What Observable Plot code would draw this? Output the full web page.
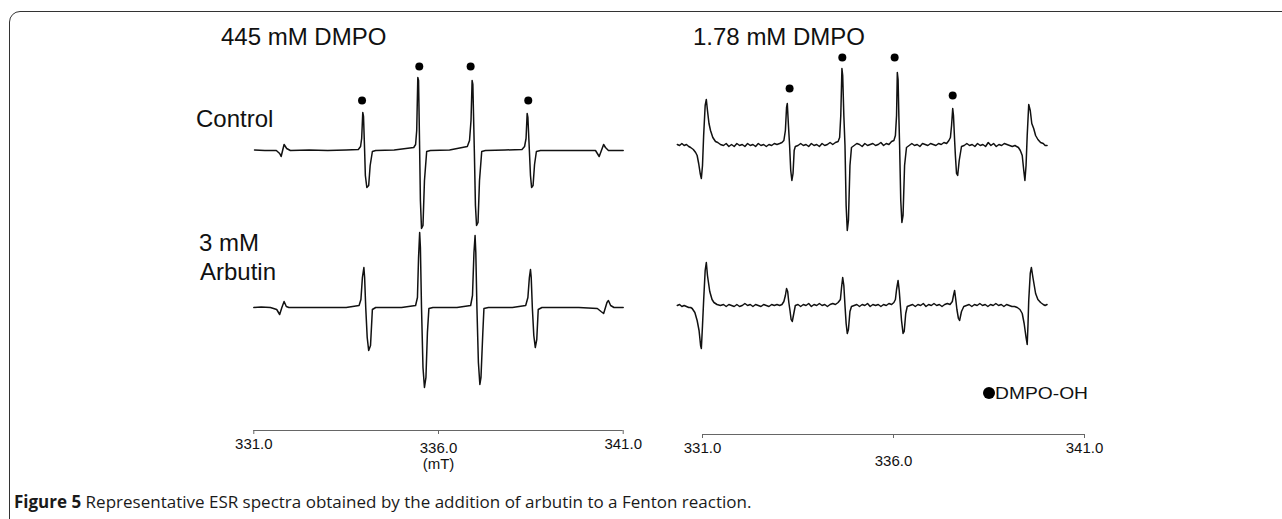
<!DOCTYPE html>
<html><head><meta charset="utf-8">
<script src="https://cdn.jsdelivr.net/npm/d3@7"></script>
<script src="https://cdn.jsdelivr.net/npm/@observablehq/plot@0.6"></script>
<style>
html,body{margin:0;padding:0;background:#fff;}
#fig{position:relative;width:1282px;height:519px;overflow:hidden;font-family:"Liberation Sans",Arial,sans-serif;background:#fff;}
#frame{position:absolute;left:8.5px;top:10.5px;width:1330px;height:620px;border:1.6px solid #333;border-radius:11px;box-sizing:border-box;}
.lbl{position:absolute;font-size:24px;line-height:24px;color:#111;white-space:nowrap;}
.panel{position:absolute;top:0;}
#legend{position:absolute;left:983px;top:385px;height:17px;}
#legend .dot{position:absolute;left:0;top:2px;width:12px;height:12px;border-radius:50%;background:#000;}
#legend .t{position:absolute;left:12px;top:0;font-size:16.5px;line-height:16.5px;white-space:nowrap;transform-origin:0 0;color:#111;}
#caption{position:absolute;left:14px;top:494px;font-family:"Open Sans","Noto Sans",sans-serif;font-size:15px;line-height:16px;white-space:nowrap;color:#1a1a1a;}
</style></head>
<body>
<div id="fig">
  <div id="frame"></div>
  <div id="leftPanel" class="panel" style="left:200px"></div>
  <div id="rightPanel" class="panel" style="left:660px"></div>
  <div class="lbl" style="left:221px;top:24.7px">445 mM DMPO</div>
  <div class="lbl" style="left:693px;top:24.7px">1.78 mM DMPO</div>
  <div class="lbl" style="left:196px;top:106.7px">Control</div>
  <div class="lbl" style="left:199px;top:231.4px">3 mM</div>
  <div class="lbl" style="left:200px;top:260.4px">Arbutin</div>
  <div id="legend"><div class="dot"></div><div class="t" id="legText">DMPO-OH</div></div>
  <div id="caption"><b>Figure 5</b> Representative ESR spectra obtained by the addition of arbutin to a Fenton reaction.</div>
</div>
<script>
// ---------- DATA (magnetic field in mT, signal intensity in arbitrary units) ----------
const fieldTicks = [331, 336, 341];
const fieldUnit = "(mT)";
const panelTitles = ["445 mM DMPO", "1.78 mM DMPO"];
const legendLabel = "DMPO-OH";

// 445 mM DMPO, control
const leftControl = [
[331.02,0.5],[331.30,0],[331.61,0],[331.70,-3],[331.74,-6],[331.78,0],[331.82,6],[331.89,2],[331.99,0],[332.5,0.5],[333.0,0],[333.5,0.5],
[333.83,1],[333.89,4],[333.92,12],[333.95,38],[333.97,34],[334.00,0],[334.02,-25],[334.06,-37],[334.11,-35],[334.15,-15],[334.21,-1],[334.30,0],
[334.8,0.5],[335.33,3],[335.38,6],[335.41,20],[335.44,73],[335.46,70],[335.49,0],[335.51,-50],[335.54,-78],[335.58,-75],[335.62,-30],[335.68,-1],[335.78,0],
[336.3,0.5],[336.78,4],[336.84,10],[336.88,30],[336.91,70],[336.93,66],[336.97,0],[337.00,-55],[337.03,-75],[337.07,-72],[337.11,-30],[337.17,-1],[337.27,0],
[337.8,0.5],[338.26,1],[338.33,4],[338.37,12],[338.40,37],[338.42,33],[338.46,0],[338.49,-25],[338.52,-37],[338.56,-35],[338.60,-14],[338.65,-1],[338.76,0],
[339.5,0],[340.25,0],[340.30,-3],[340.35,-6],[340.41,0],[340.47,6],[340.52,3],[340.60,0],[341.00,0]
];
// 445 mM DMPO, 3 mM arbutin
const leftArbutin = [
[331.00,0],[331.2,0.5],[331.45,0],[331.62,-2],[331.70,-7],[331.76,0],[331.82,6],[331.88,1],[331.95,0],[332.5,0],[333.5,0],
[333.85,2],[333.90,8],[333.94,30],[333.98,40],[334.00,30],[334.03,0],[334.07,-30],[334.11,-43],[334.16,-38],[334.21,-2],[334.30,0],
[335.0,0],[335.38,2],[335.43,10],[335.46,50],[335.49,75],[335.51,60],[335.54,0],[335.58,-60],[335.62,-80],[335.66,-70],[335.70,-25],[335.74,-1],[335.85,0],
[336.5,0],[336.87,2],[336.92,12],[336.96,55],[336.99,72],[337.01,55],[337.04,0],[337.08,-55],[337.12,-77],[337.15,-70],[337.20,-25],[337.23,-1],[337.35,0],
[338.0,0],[338.36,2],[338.42,10],[338.46,30],[338.49,38],[338.51,30],[338.54,0],[338.58,-28],[338.62,-40],[338.66,-32],[338.70,-2],[338.80,0],
[339.8,0],[340.30,-1],[340.40,-4],[340.47,-6],[340.52,0],[340.56,5],[340.60,7],[340.66,2],[340.75,0],[341.00,0]
];
// 1.78 mM DMPO, control
const rightControl = [
[330.34,1],[330.40,0],[330.46,2],[330.52,0],[330.58,1],[330.64,-1],[330.69,-2],[330.76,-4],[330.82,-7],[330.86,-10],[330.90,-18],[330.94,-28],[330.97,-33],[331.00,-20],
[331.03,10],[331.07,40],[331.10,46],[331.13,35],[331.17,22],[331.21,15],[331.27,8],[331.34,4],[331.40,3],[331.47,1],
[331.55,0],[331.62,2],[331.69,-1],[331.76,1],[331.83,-1],[331.90,2],[331.97,0],[332.04,1],[332.11,-1],[332.18,2],[332.25,0],[332.32,1],[332.39,-1],[332.46,2],
[332.53,0],[332.60,1],[332.67,-1],[332.74,1],[332.81,0],[332.88,2],[332.95,1],[333.02,2],[333.08,3],
[333.13,5],[333.17,15],[333.20,38],[333.22,42],[333.25,20],[333.28,0],[333.31,-25],[333.34,-35],[333.37,-28],[333.40,-5],[333.43,-1],
[333.50,0],[333.57,2],[333.64,0],[333.71,1],[333.78,-1],[333.85,2],[333.92,0],[333.99,1],[334.06,-1],[334.13,2],[334.20,0],[334.27,1],[334.34,3],[334.41,1],[334.48,3],
[334.55,4],[334.59,8],[334.62,30],[334.65,77],[334.67,70],[334.70,30],[334.73,0],[334.76,-60],[334.79,-85],[334.82,-75],[334.86,-20],[334.90,-2],
[334.97,0],[335.04,2],[335.11,1],[335.18,-1],[335.25,2],[335.32,0],[335.39,1],[335.46,2],[335.53,0],[335.60,1],[335.67,3],[335.74,0],[335.81,2],[335.88,1],[335.95,4],
[336.01,5],[336.05,10],[336.08,30],[336.10,73],[336.12,66],[336.14,30],[336.16,0],[336.19,-55],[336.22,-77],[336.25,-70],[336.29,-20],[336.34,-2],
[336.41,0],[336.48,2],[336.55,0],[336.62,1],[336.69,-1],[336.76,2],[336.83,1],[336.90,0],[336.97,2],[337.04,1],[337.11,0],[337.18,2],[337.25,1],[337.32,3],[337.39,2],
[337.45,5],[337.49,8],[337.52,20],[337.55,37],[337.57,30],[337.60,5],[337.62,-10],[337.65,-28],[337.68,-30],[337.72,-15],[337.78,-1],
[337.85,0],[337.92,2],[337.99,0],[338.06,1],[338.13,-1],[338.20,2],[338.27,0],[338.34,1],[338.41,-1],[338.48,3],[338.55,0],[338.62,2],[338.69,-1],[338.76,1],
[338.83,0],[338.90,2],[338.97,1],[339.04,0],[339.11,-1],[339.18,0],
[339.27,-2],[339.32,-5],[339.37,-10],[339.41,-25],[339.44,-35],[339.47,-20],[339.50,10],[339.54,41],[339.58,35],[339.62,22],[339.67,17],[339.72,10],[339.78,6],[339.85,3],[339.92,2],[339.97,0],[340.02,0]
];
// 1.78 mM DMPO, 3 mM arbutin
const rightArbutin = [
[330.34,0],[330.40,1],[330.46,-1],[330.52,0],[330.58,-1],[330.64,-2],[330.69,-2],[330.73,-3],[330.80,-7],[330.86,-15],[330.91,-25],[330.95,-40],[330.97,-43],[331.00,-20],
[331.03,5],[331.07,35],[331.10,43],[331.13,30],[331.19,14],[331.25,6],[331.30,3],[331.38,1],[331.47,0],
[331.55,1],[331.62,-1],[331.69,1],[331.76,0],[331.83,-1],[331.90,1],[331.97,-1],[332.04,0],[332.11,2],[332.18,0],[332.25,1],[332.32,-1],[332.39,1],[332.46,0],
[332.53,-1],[332.60,1],[332.67,0],[332.74,-1],[332.81,1],[332.88,0],[332.95,1],[333.02,0],[333.08,1],
[333.13,4],[333.17,10],[333.20,17],[333.23,14],[333.26,3],[333.29,-5],[333.32,-14],[333.35,-16],[333.39,-8],[333.43,0],
[333.50,1],[333.57,-1],[333.64,1],[333.71,0],[333.78,2],[333.85,-1],[333.92,1],[333.99,0],[334.06,2],[334.13,0],[334.20,1],[334.27,-1],[334.34,1],[334.41,2],[334.48,1],
[334.55,3],[334.61,6],[334.64,18],[334.67,28],[334.70,20],[334.73,0],[334.76,-18],[334.79,-28],[334.82,-24],[334.86,-6],[334.90,-1],
[334.97,0],[335.04,1],[335.11,-1],[335.18,1],[335.25,0],[335.32,2],[335.39,-1],[335.46,1],[335.53,0],[335.60,1],[335.67,-1],[335.74,1],[335.81,0],[335.88,2],[335.95,1],
[336.01,3],[336.05,6],[336.08,16],[336.12,25],[336.15,15],[336.18,0],[336.21,-15],[336.25,-28],[336.28,-26],[336.32,-8],[336.36,-1],
[336.43,0],[336.50,1],[336.57,-1],[336.64,1],[336.71,0],[336.78,2],[336.85,-1],[336.92,1],[336.99,0],[337.06,2],[337.13,0],[337.20,1],[337.27,-1],[337.34,1],[337.41,2],
[337.48,1],[337.54,4],[337.57,10],[337.60,15],[337.63,6],[337.66,-4],[337.70,-13],[337.73,-15],[337.78,-6],[337.84,-1],
[337.91,0],[337.98,1],[338.05,-1],[338.12,1],[338.19,0],[338.26,2],[338.33,0],[338.40,1],[338.47,-1],[338.54,1],[338.61,0],[338.68,2],[338.75,0],[338.82,1],
[338.89,-1],[338.96,1],[339.03,0],[339.10,-1],[339.17,-1],
[339.24,-2],[339.31,-4],[339.37,-8],[339.42,-18],[339.47,-32],[339.50,-39],[339.52,-20],[339.54,5],[339.58,32],[339.61,38],[339.65,28],[339.72,12],[339.78,6],[339.85,3],[339.92,1],[339.97,0],[340.02,1]
];
// DMPO-OH markers (field, height above control baseline)
const leftMarkers = [[333.93,50],[335.48,84],[336.87,84],[338.43,50]];
const rightMarkers = [[333.28,57],[334.66,88],[336.03,88],[337.55,50]];

// ---------- LAYOUT ----------
const font = '"Liberation Sans", Arial, sans-serif';
function panel({width, marginLeft, marginRight, marginBottom, yDomain, control, arbutin, offset, markers, endPad, midPad, unit}) {
  const X = d => d[0], Y = d => d[1], Yoff = d => d[1] + offset;
  const axisOpts = {tickSize: 4, tickFormat: d => d.toFixed(1), label: null, stroke: "#666", fill: "#111", fontSize: 15};
  const marks = [
    Plot.ruleY([yDomain[0]], {stroke: "#666", strokeWidth: 1}),
    Plot.axisX({...axisOpts, ticks: [fieldTicks[0], fieldTicks[2]], tickPadding: endPad}),
    Plot.axisX({...axisOpts, ticks: [fieldTicks[1]], tickPadding: midPad}),
    Plot.line(control, {x: X, y: Y, stroke: "#111", strokeWidth: 1.5}),
    Plot.line(arbutin, {x: X, y: Yoff, stroke: "#111", strokeWidth: 1.5}),
    Plot.dot(markers, {x: X, y: Y, r: 4, fill: "#000", stroke: null})
  ];
  if (unit) marks.push(Plot.text([unit], {x: () => fieldTicks[1], text: d => d, frameAnchor: "bottom", dy: 38, fill: "#111", fontSize: 15}));
  return Plot.plot({
    width, height: 480, marginLeft, marginRight, marginTop: 0, marginBottom,
    x: {domain: [fieldTicks[0], fieldTicks[2]]},
    y: {domain: yDomain, axis: null},
    style: {fontFamily: font, fontSize: "15px", color: "#111", background: "transparent", overflow: "visible"},
    marks
  });
}
document.getElementById("leftPanel").appendChild(panel({
  width: 450, marginLeft: 53.3, marginRight: 27.3, marginBottom: 50, yDomain: [-280, 150],
  control: leftControl, arbutin: leftArbutin, offset: -157, markers: leftMarkers, endPad: 4, midPad: 8, unit: fieldUnit
}));
document.getElementById("rightPanel").appendChild(panel({
  width: 440, marginLeft: 42, marginRight: 16, marginBottom: 46, yDomain: [-289, 145],
  control: rightControl, arbutin: rightArbutin, offset: -160, markers: rightMarkers, endPad: 4, midPad: 17, unit: null
}));
// legend text stretch to match
const lt = document.getElementById("legText");
lt.textContent = legendLabel;
lt.style.transform = `scaleX(${93 / lt.getBoundingClientRect().width})`;
// fit caption to width
const cap = document.getElementById("caption");
const w = cap.getBoundingClientRect().width;
cap.style.fontSize = (15 * 738 / w) + "px";
</script>
</body></html>
